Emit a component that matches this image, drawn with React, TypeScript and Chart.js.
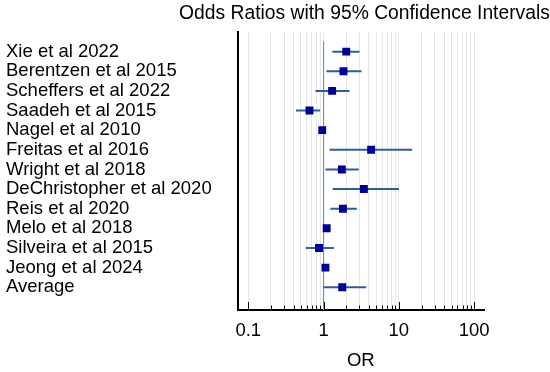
import React, { useEffect, useRef } from "react";
import { Chart, registerables } from "chart.js";

Chart.register(...registerables);

const studies = [
  "Xie et al 2022",
  "Berentzen et al 2015",
  "Scheffers et al 2022",
  "Saadeh et al 2015",
  "Nagel et al 2010",
  "Freitas et al 2016",
  "Wright et al 2018",
  "DeChristopher et al 2020",
  "Reis et al 2020",
  "Melo et al 2018",
  "Silveira et al 2015",
  "Jeong et al 2024",
  "Average",
];
const oddsRatios = [2.0, 1.84, 1.3, 0.65, 0.96, 4.28, 1.75, 3.43, 1.81, 1.1, 0.87, 1.06, 1.77];
const ciLower = [1.31, 1.09, 0.78, 0.43, 0.93, 1.2, 1.06, 1.32, 1.23, 1.07, 0.58, 1.03, 1.0];
const ciUpper = [3.0, 3.19, 2.21, 0.9, 0.99, 15.0, 2.94, 10.0, 2.77, 1.13, 1.37, 1.09, 3.68];
const xTickValues = [
  0.1, 0.2, 0.3, 0.4, 0.5, 0.6, 0.7, 0.8, 0.9,
  1, 2, 3, 4, 5, 6, 7, 8, 9,
  10, 20, 30, 40, 50, 60, 70, 80, 90,
  100,
];
const xTickLabels: Record<string, string> = { "0.1": "0.1", "1": "1", "10": "10", "100": "100" };

const FONT = "'Liberation Sans', Arial, sans-serif";
const FS = 18.5;
const TITLE_FS = 19.3;

export default function App() {
  const ref = useRef<HTMLCanvasElement | null>(null);
  useEffect(() => {
    document.body.style.margin = "0";
    const canvas = ref.current!;
    Chart.defaults.font.family = FONT;

    const pointData = oddsRatios.map((v, i) => ({ x: v, y: i + 1 }));
    const errorSets = studies.map((s, i) => ({
      type: "scatter" as const,
      label: s + " CI",
      data: [
        { x: ciLower[i], y: i + 1 },
        { x: ciUpper[i], y: i + 1 },
      ],
      showLine: true,
      borderColor: "#2c5d9c",
      borderWidth: 2,
      pointRadius: 0,
      order: 2,
    }));

    const titlePlugin = {
      id: "plainTitle",
      afterDraw(chart: any) {
        const ctx = chart.ctx;
        ctx.save();
        ctx.font = `${TITLE_FS}px ${FONT}`;
        ctx.fillStyle = "#000";
        ctx.textAlign = "center";
        ctx.textBaseline = "middle";
        ctx.fillText("Odds Ratios with 95% Confidence Intervals", 364.5, 14);
        ctx.restore();
      },
    };

    const tickPlugin = {
      id: "innerTicks",
      afterDatasetsDraw(chart: any) {
        const ctx = chart.ctx;
        const xs = chart.scales.x;
        const bottom = chart.chartArea.bottom;
        ctx.save();
        ctx.strokeStyle = "#000";
        ctx.lineWidth = 1;
        xTickValues.forEach((v) => {
          const major = xTickLabels[String(v)] !== undefined;
          const px = Math.round(xs.getPixelForValue(v)) + 0.5;
          ctx.beginPath();
          ctx.moveTo(px, bottom);
          ctx.lineTo(px, bottom - (major ? 8 : 4.5));
          ctx.stroke();
        });
        ctx.restore();
      },
    };

    const chart = new Chart(canvas, {
      type: "scatter",
      data: {
        datasets: [
          {
            label: "OR",
            data: pointData,
            pointStyle: "rect",
            pointRadius: 5.6,
            pointHoverRadius: 5.6,
            backgroundColor: "#000099",
            borderColor: "#000099",
            borderWidth: 0,
            order: 1,
          },
          ...errorSets,
          {
            label: "ref",
            data: [
              { x: 1, y: 0.5 },
              { x: 1, y: 14.16 },
            ],
            showLine: true,
            borderColor: "#5e92d4",
            borderWidth: 1,
            pointRadius: 0,
            order: 3,
          },
        ] as any,
      },
      options: {
        responsive: false,
        animation: false,
        layout: { padding: { left: 6, right: 66, top: 32, bottom: 0 } },
        plugins: {
          legend: { display: false },
          tooltip: { enabled: false },
          title: { display: false },
        },
        scales: {
          x: {
            type: "logarithmic",
            min: 0.072,
            max: 135,
            afterBuildTicks(scale: any) {
              scale.ticks = xTickValues.map((v) => ({ value: v, major: xTickLabels[String(v)] !== undefined }));
            },
            afterFit(scale: any) {
              scale.height = 62;
            },
            ticks: {
              autoSkip: false,
              maxRotation: 0,
              padding: 10,
              color: "#000",
              font: { size: FS, family: FONT },
              callback: (v: any) => {
                const l = xTickLabels[String(v)];
                return l === undefined ? "" : l;
              },
            },
            grid: { color: "#e6e6e6", lineWidth: 1, drawTicks: false },
            border: { display: true, color: "#000", width: 2 },
            title: {
              display: true,
              text: "OR",
              color: "#000",
              font: { size: FS, family: FONT },
              padding: 0,
            },
          },
          y: {
            type: "linear",
            min: 0,
            max: 14.16,
            reverse: true,
            afterBuildTicks(scale: any) {
              scale.ticks = studies.map((_, i) => ({ value: i + 1 }));
            },
            afterFit(scale: any) {
              scale.width = 231.5;
            },
            ticks: {
              autoSkip: false,
              crossAlign: "far",
              color: "#000",
              font: { size: FS, family: FONT },
              callback: (v: any) => studies[Number(v) - 1] ?? "",
            },
            grid: { display: false, drawTicks: false },
            border: { display: true, color: "#000", width: 2 },
          },
        },
      },
      plugins: [titlePlugin, tickPlugin],
    });
    return () => chart.destroy();
  }, []);
  return (
    <div style={{ width: 550, height: 372 }}>
      <canvas ref={ref} width={550} height={372} style={{ display: "block", width: 550, height: 372 }} />
    </div>
  );
}
